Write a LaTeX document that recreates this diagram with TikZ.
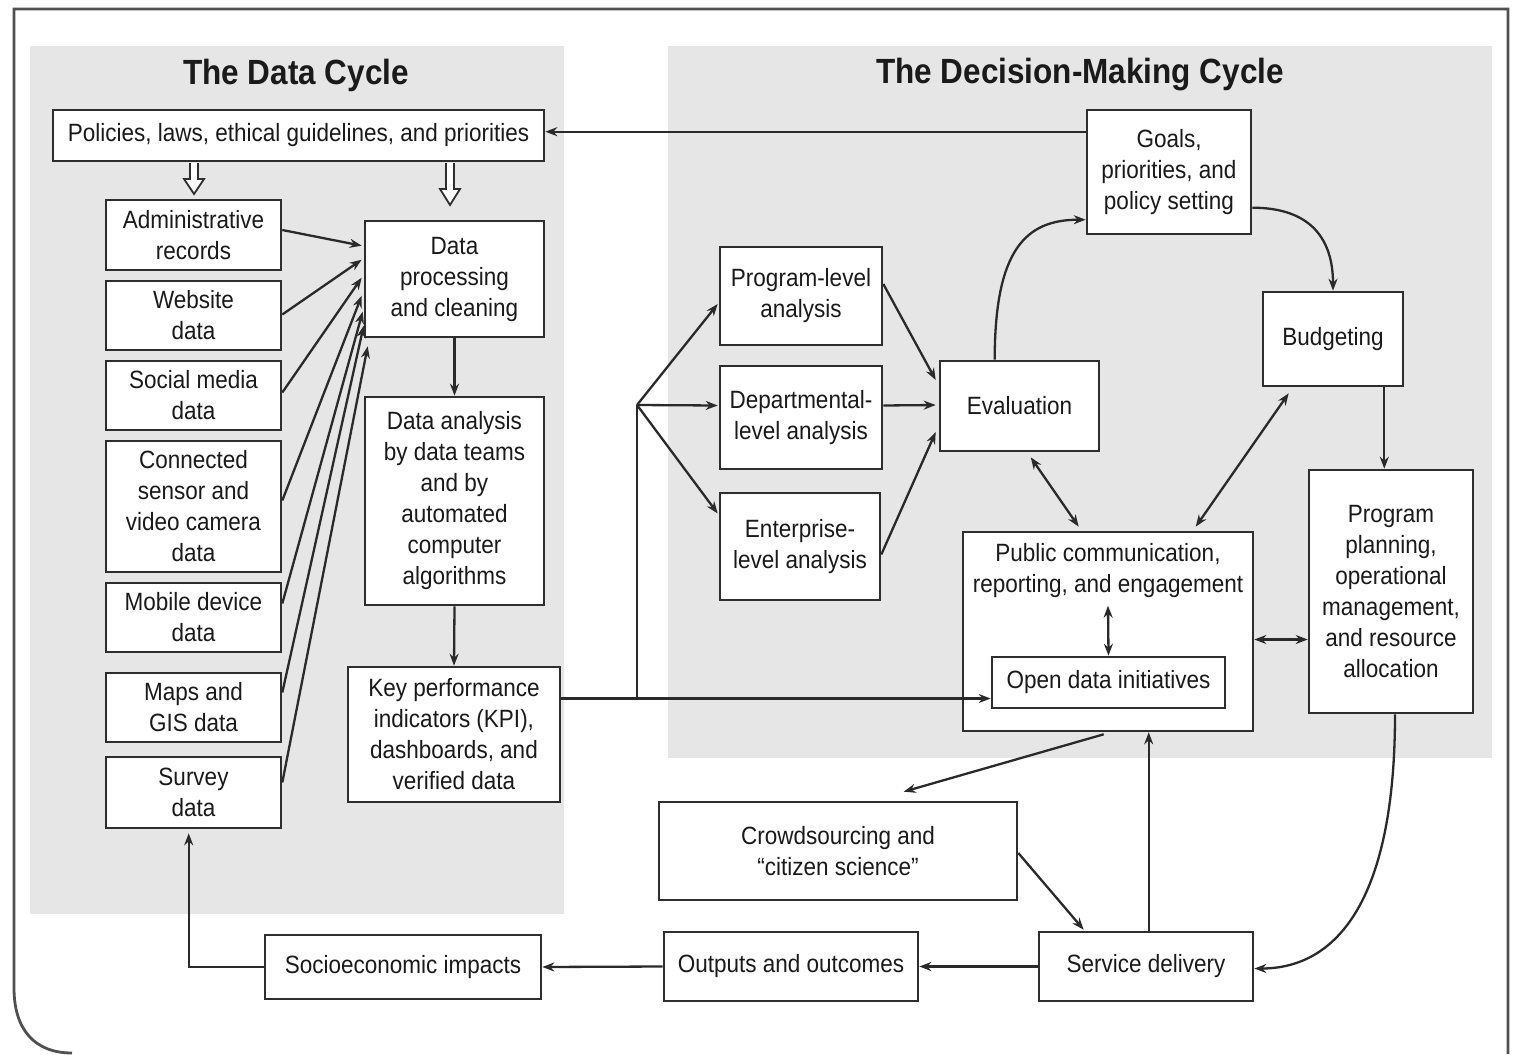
\documentclass[tikz,border=0pt]{standalone}
\usepackage{fontspec}
\setmainfont[FakeStretch=0.9]{Liberation Sans}
\usetikzlibrary{arrows.meta,calc}
\definecolor{boxc}{HTML}{2E2E2E}
\definecolor{linec}{HTML}{2A2A2A}
\definecolor{panelc}{HTML}{E6E6E6}
\definecolor{txtc}{HTML}{1A1A1A}
\definecolor{framec}{HTML}{505050}
\begin{document}
\begin{tikzpicture}[x=1pt,y=-1pt,
  box/.style={draw=boxc, line width=2.6pt, fill=white, inner sep=0pt, align=center,
    font=\fontsize{25}{31}\selectfont, text=txtc},
  plain/.style={inner sep=0pt, align=center, font=\fontsize{25}{31}\selectfont, text=txtc},
  title/.style={inner sep=0pt, font=\fontsize{35}{40}\selectfont\bfseries, text=txtc},
  conn/.style={draw=linec, line width=2.3pt},
  arr/.style={conn, -{Stealth[length=12pt,width=9pt]}},
  darr/.style={conn, {Stealth[length=12pt,width=9pt]}-{Stealth[length=12pt,width=9pt]}},
  hollow/.style={draw=boxc, line width=1.8pt, fill=white, line join=miter}
]
\useasboundingbox (0,0) rectangle (1514,1054);
\fill[white] (0,0) rectangle (1514,1054);
% outer frame
\draw[framec, line width=2.8pt] (1508,1054) -- (1508,9) -- (14,9) -- (14,988)
  .. controls (14,1030) and (35,1053) .. (72,1053);
% panels
\fill[panelc] (30,46) rectangle (564,914);
\fill[panelc] (668,46) rectangle (1492,758);
% titles
\node[title] (t1) at (296,75) {The Data Cycle};
\node[title] (t2) at (1080,75) {The Decision-Making Cycle};

% left boxes
\node[box, minimum width=491, minimum height=51] (pol) at (298.5,135.5) {Policies, laws, ethical guidelines, and priorities};
\node[box, minimum width=175, minimum height=70] (adm) at (193.5,235) {Administrative\\records};
\node[box, minimum width=175, minimum height=69] (web) at (193.5,315.5) {Website\\data};
\node[box, minimum width=175, minimum height=69] (soc) at (193.5,395.5) {Social media\\data};
\node[box, minimum width=175, minimum height=131] (sen) at (193.5,506.5) {Connected\\sensor and\\video camera\\data};
\node[box, minimum width=175, minimum height=69] (mob) at (193.5,617.5) {Mobile device\\data};
\node[box, minimum width=175, minimum height=69] (map) at (193.5,707.5) {Maps and\\GIS data};
\node[box, minimum width=175, minimum height=71] (sur) at (193.5,792.5) {Survey\\data};
\node[box, minimum width=179, minimum height=116] (proc) at (454.5,279) {Data\\processing\\and cleaning};
\node[box, minimum width=179, minimum height=208] (ana) at (454.5,501) {Data analysis\\by data teams\\and by\\automated\\computer\\algorithms};
\node[box, minimum width=212, minimum height=135] (kpi) at (454,734.5) {Key performance\\indicators (KPI),\\dashboards, and\\verified data};

% hollow arrows
\draw[hollow] (190,163) -- (190,179) -- (184,179) -- (194,194) -- (204,179) -- (198,179) -- (198,163);
\draw[hollow] (446,163) -- (446,189) -- (440,189) -- (450,205) -- (460,189) -- (454,189) -- (454,163);

% right boxes
\node[box, minimum width=162, minimum height=98] (prg) at (801,296) {Program-level\\analysis};
\node[box, minimum width=162, minimum height=103] (dep) at (801,417.5) {Departmental-\\level analysis};
\node[box, minimum width=160, minimum height=107] (ent) at (800,546.5) {Enterprise-\\level analysis};
\node[box, minimum width=159, minimum height=90] (eva) at (1019.5,406) {Evaluation};
\node[box, minimum width=164, minimum height=124] (goa) at (1169,172) {Goals,\\priorities, and\\policy setting};
\node[box, minimum width=140, minimum height=94] (bud) at (1333,339) {Budgeting};
\node[box, minimum width=290, minimum height=199] (pub) at (1108,631.5) {};
\node[plain] (pubt) at (1108,571) {Public communication,\\reporting, and engagement};
\node[box, minimum width=233, minimum height=51] (od) at (1108.5,682.5) {Open data initiatives};
\node[box, minimum width=164, minimum height=243] (pla) at (1391,591.5) {Program\\planning,\\operational\\management,\\and resource\\allocation};

% bottom boxes
\node[box, minimum width=358, minimum height=98] (cro) at (838,851) {Crowdsourcing and\\“citizen science”};
\node[box, minimum width=254, minimum height=69] (out) at (791,966.5) {Outputs and outcomes};
\node[box, minimum width=214, minimum height=69] (ser) at (1146,966.5) {Service delivery};
\node[box, minimum width=276, minimum height=64] (sei) at (403,967) {Socioeconomic impacts};

% sources -> processing
\draw[arr] ($(adm.east)+(0,-5)$) -- ($(proc.north west)+(-2,26)$);
\draw[arr] ($(web.east)+(0,-1)$) -- ($(proc.north west)+(-2,40)$);
\draw[arr] ($(soc.east)+(0,-3)$) -- ($(proc.north west)+(-2,58)$);
\draw[arr] ($(sen.east)+(0,-6)$) -- ($(proc.north west)+(-2,76)$);
\draw[arr] ($(mob.east)+(0,-14)$) -- ($(proc.north west)+(-1,92)$);
\draw[arr] ($(map.east)+(0,-15)$) -- ($(proc.north west)+(0,106)$);
\draw[arr] ($(sur.east)+(0,-10)$) -- ($(proc.south west)+(4,8)$);

% data chain
\draw[arr] (proc.south) -- (ana.north);
\draw[arr] (ana.south) -- (kpi.north);

% KPI -> open data and branching
\coordinate (kl) at ($(kpi.east)+(0,-36)$);
\draw[arr] (kl) -- (kl -| od.west);
\coordinate (br) at (637,405);
\draw[conn] (kl -| br) -- (br);
\draw[arr] (br) -- ($(prg.west)+(-1,8)$);
\draw[arr] (br) -- ($(dep.west)+(-1,-12)$);
\draw[arr] (br) -- ($(ent.west)+(-1,-33)$);

% analyses -> evaluation
\draw[arr] ($(prg.east)+(0,-12)$) -- ($(eva.west)+(-3,-26)$);
\draw[arr] ($(dep.east)+(0,-12)$) -- ($(eva.west)+(-3,-1)$);
\draw[arr] ($(ent.east)+(0,8)$) -- ($(eva.west)+(-3,26)$);

% evaluation -> goals
\coordinate (evt) at ($(eva.north west)+(56,0)$);
\coordinate (gol) at ($(goa.north west)+(0,111)$);
\draw[arr] (evt) .. controls ($(evt)+(0,-110)$) and ($(gol)+(-60,0)$) .. (gol);
% goals -> budgeting
\coordinate (gor) at ($(goa.north east)+(0,99)$);
\draw[arr] (gor) .. controls ($(gor)+(60,0)$) and ($(bud.north)+(0,-50)$) .. (bud.north);
% goals -> policies
\coordinate (gp) at ($(goa.north west)+(0,23)$);
\draw[arr] (gp) -- (gp -| pol.east);
% budgeting -> planning
\coordinate (bb) at ($(bud.south east)+(-20,0)$);
\draw[arr] (bb) -- (bb |- pla.north);

% two-way links
\draw[darr] ($(eva.south west)+(92,5)$) -- ($(pub.north west)+(117,-4)$);
\draw[darr] ($(bud.south west)+(27,6)$) -- ($(pub.north west)+(234,-4)$);
\draw[darr] ($(pub.north)+(0,75)$) -- (od.north);
\coordinate (pp) at ($(pub.east)+(0,8)$);
\draw[darr] (pp) -- (pp -| pla.west);

% planning -> service delivery
\coordinate (pls) at ($(pla.south)+(4,0)$);
\coordinate (ser2) at ($(ser.east)+(0,2)$);
\draw[arr] (pls) .. controls ($(pls)+(0,190)$) and ($(ser2)+(80,0)$) .. (ser2);

% public -> crowdsourcing
\draw[arr] ($(pub.south west)+(142,2)$) -- ($(cro.north west)+(246,-9)$);
% crowdsourcing -> service delivery
\draw[arr] ($(cro.east)+(0,2)$) -- ($(ser.north west)+(46,-1)$);
% service delivery -> public
\coordinate (sv) at ($(ser.north west)+(111,0)$);
\draw[arr] (sv) -- (sv |- pub.south);
% service -> outputs -> socioeconomic
\draw[arr] (ser.west) -- (out.east);
\draw[arr] (out.west) -- (sei.east);
% socioeconomic -> survey
\coordinate (sc) at ($(sur.south west)+(84,0)$);
\draw[arr] (sei.west) -- (sei.west -| sc) -- ($(sc)+(0,4)$);
\end{tikzpicture}
\end{document}
